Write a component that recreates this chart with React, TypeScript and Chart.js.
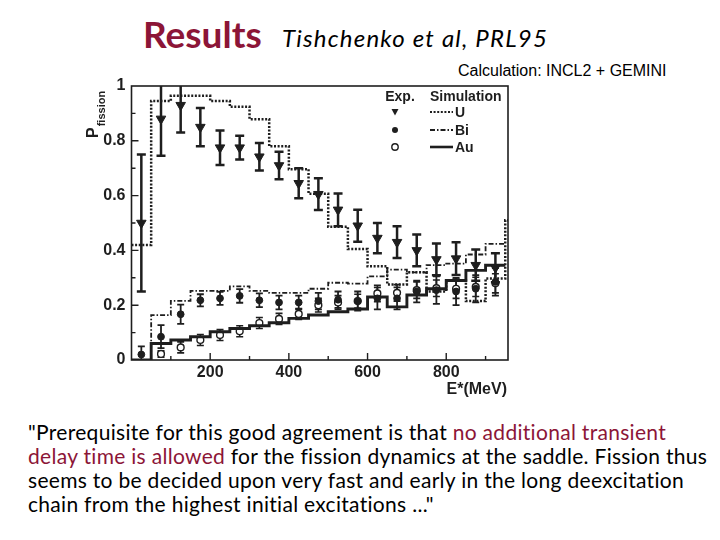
import React, { useEffect, useRef } from "react";
import { Chart, registerables } from "chart.js";
Chart.register(...registerables);

// ---- data ----
const binEdges = [0, 50, 100, 150, 200, 250, 300, 350, 400, 450, 500, 550, 600, 650, 700, 750, 800, 850, 900, 950, 1000];
const uSim = [0.42, 0.945, 0.964, 0.964, 0.945, 0.924, 0.879, 0.78, 0.696, 0.607, 0.486, 0.405, 0.342, 0.276, 0.32, 0.25, 0.29, 0.215, 0.297, 0.51];
const biSim = [0, 0.164, 0.216, 0.252, 0.252, 0.269, 0.252, 0.245, 0.245, 0.26, 0.282, 0.279, 0.305, 0.33, 0.32, 0.346, 0.352, 0.385, 0.424];
const auSim = [0, 0.06, 0.073, 0.085, 0.103, 0.115, 0.125, 0.136, 0.152, 0.164, 0.176, 0.186, 0.23, 0.194, 0.237, 0.26, 0.29, 0.327, 0.346];

const energies = [25, 75, 125, 175, 225, 275, 325, 375, 425, 475, 525, 575, 625, 675, 725, 775, 825, 875, 925];
const uExp = [0.5, 0.88, 0.93, 0.85, 0.775, 0.775, 0.742, 0.71, 0.645, 0.605, 0.548, 0.49, 0.445, 0.43, 0.4, 0.367, 0.37, 0.346, 0.337];
const uErr = [0.25, 0.135, 0.1, 0.07, 0.063, 0.043, 0.05, 0.05, 0.055, 0.058, 0.06, 0.058, 0.055, 0.058, 0.058, 0.058, 0.06, 0.057, 0.053];
const biExp = [0.02, 0.085, 0.167, 0.218, 0.225, 0.234, 0.218, 0.21, 0.21, 0.215, 0.22, 0.215, 0.225, 0.225, 0.25, 0.255, 0.25, 0.26, 0.285];
const biErr = [0.03, 0.042, 0.035, 0.022, 0.024, 0.025, 0.025, 0.025, 0.025, 0.03, 0.03, 0.035, 0.04, 0.04, 0.04, 0.05, 0.05, 0.05, 0.05];
const auExp = [null, 0.022, 0.046, 0.073, 0.091, 0.105, 0.135, 0.15, 0.168, 0.2, 0.21, 0.215, 0.243, 0.245, 0.255, 0.262, 0.26, 0.267, 0.28];
const auErr = [0, 0.012, 0.02, 0.02, 0.02, 0.02, 0.02, 0.02, 0.02, 0.025, 0.025, 0.025, 0.03, 0.03, 0.03, 0.03, 0.035, 0.035, 0.035];

const xTickLabels = [200, 400, 600, 800];
const xMinorTicks = [100, 300, 500, 700, 900];
const yTickLabels = ["0", "0.2", "0.4", "0.6", "0.8", "1"];
const yMajorTicks = [0.2, 0.4, 0.6, 0.8];
const yMinorTicks = [0.1, 0.3, 0.5, 0.7, 0.9];
const legendRows = ["U", "Bi", "Au"];

const INK = "#1e1e1e";
const AXIS_FONT = "'Liberation Sans', Arial, sans-serif";
const RED = "#8c1537";

function histPoints(vals: number[]) {
  const pts = vals.map((v, i) => ({ x: binEdges[i], y: v }));
  pts.push({ x: binEdges[vals.length], y: vals[vals.length - 1] });
  return pts;
}
function expPoints(vals: (number | null)[]) {
  return vals
    .map((v, i) => (v === null ? null : { x: energies[i], y: v }))
    .filter((p) => p !== null);
}

const U_DASH = [2, 1.6];
const BI_DASH = [5, 2, 1.5, 2];

const decor = {
  id: "decor",
  beforeDatasetsDraw(chart: any) {
    const { ctx, chartArea: a, scales } = chart;
    const xs = scales.x, ys = scales.y;
    const series = [
      { vals: uExp, errs: uErr, lw: 2.5, cap: 4.5 },
      { vals: biExp, errs: biErr, lw: 1.8, cap: 3.5 },
      { vals: auExp, errs: auErr, lw: 1.6, cap: 3.5 },
    ];
    ctx.save();
    ctx.beginPath();
    ctx.rect(a.left, a.top, a.right - a.left, a.bottom - a.top);
    ctx.clip();
    ctx.strokeStyle = INK;
    for (const s of series) {
      ctx.lineWidth = s.lw;
      s.vals.forEach((v: any, i: number) => {
        if (v === null) return;
        const x = xs.getPixelForValue(energies[i]);
        const y1 = ys.getPixelForValue(v + s.errs[i]);
        const y2 = ys.getPixelForValue(v - s.errs[i]);
        ctx.beginPath();
        ctx.moveTo(x, y1);
        ctx.lineTo(x, y2);
        ctx.moveTo(x - s.cap, y1);
        ctx.lineTo(x + s.cap, y1);
        ctx.moveTo(x - s.cap, y2);
        ctx.lineTo(x + s.cap, y2);
        ctx.stroke();
      });
    }
    ctx.restore();
  },
  afterDraw(chart: any) {
    const { ctx, chartArea: a, scales } = chart;
    const xs = scales.x, ys = scales.y;
    ctx.save();
    // frame
    ctx.strokeStyle = INK;
    ctx.lineWidth = 1.6;
    ctx.strokeRect(a.left, a.top, a.right - a.left, a.bottom - a.top);
    // ticks (inward)
    ctx.lineWidth = 1.4;
    ctx.beginPath();
    xTickLabels.forEach((v) => {
      const x = xs.getPixelForValue(v);
      ctx.moveTo(x, a.bottom);
      ctx.lineTo(x, a.bottom - 7);
    });
    xMinorTicks.forEach((v) => {
      const x = xs.getPixelForValue(v);
      ctx.moveTo(x, a.bottom);
      ctx.lineTo(x, a.bottom - 4);
    });
    yMajorTicks.forEach((v) => {
      const y = ys.getPixelForValue(v);
      ctx.moveTo(a.left, y);
      ctx.lineTo(a.left + 7, y);
    });
    yMinorTicks.forEach((v) => {
      const y = ys.getPixelForValue(v);
      ctx.moveTo(a.left, y);
      ctx.lineTo(a.left + 4, y);
    });
    ctx.stroke();

    // y title P_fission (reads bottom to top)
    ctx.fillStyle = INK;
    ctx.save();
    ctx.translate(a.left - 34, a.top + 52);
    ctx.rotate(-Math.PI / 2);
    ctx.textBaseline = "alphabetic";
    ctx.textAlign = "left";
    ctx.font = `bold 16px ${AXIS_FONT}`;
    ctx.fillText("P", 0, 0);
    const pw = ctx.measureText("P").width;
    ctx.font = `bold 11px ${AXIS_FONT}`;
    ctx.fillText("fission", pw + 1, 7.5);
    ctx.restore();

    // x title
    ctx.font = `bold 16px ${AXIS_FONT}`;
    ctx.textAlign = "right";
    ctx.textBaseline = "middle";
    ctx.fillText("E*(MeV)", a.right - 1, a.bottom + 30);

    // legend
    const mx = a.right - 113;
    const lx0 = a.right - 78;
    const lx1 = a.right - 55;
    const hy = a.top + 11;
    const rowsY = [a.top + 26, a.top + 44, a.top + 61];
    ctx.font = `bold 14px ${AXIS_FONT}`;
    ctx.textBaseline = "middle";
    ctx.textAlign = "center";
    ctx.fillText("Exp.", mx + 5, hy);
    ctx.textAlign = "left";
    ctx.fillText("Simulation", lx0, hy);
    rowsY.forEach((y, i) => {
      ctx.fillText(legendRows[i], lx1 + 2, y + 1);
      ctx.beginPath();
      if (i === 0) {
        ctx.setLineDash(U_DASH);
        ctx.lineWidth = 2.2;
      } else if (i === 1) {
        ctx.setLineDash(BI_DASH);
        ctx.lineWidth = 1.8;
      } else {
        ctx.setLineDash([]);
        ctx.lineWidth = 2.6;
      }
      ctx.moveTo(lx0, y);
      ctx.lineTo(lx1, y);
      ctx.stroke();
      ctx.setLineDash([]);
      ctx.lineWidth = 1.4;
      ctx.beginPath();
      if (i === 0) {
        ctx.moveTo(mx - 3.5, y - 3);
        ctx.lineTo(mx + 3.5, y - 3);
        ctx.lineTo(mx, y + 3.5);
        ctx.closePath();
        ctx.fill();
      } else if (i === 1) {
        ctx.arc(mx, y, 3, 0, Math.PI * 2);
        ctx.fill();
      } else {
        ctx.arc(mx, y, 3.2, 0, Math.PI * 2);
        ctx.stroke();
      }
    });
    ctx.restore();
  },
};

function PlotCanvas() {
  const ref = useRef<HTMLCanvasElement>(null);
  useEffect(() => {
    if (!ref.current) return;
    const chart = new Chart(ref.current, {
      type: "line",
      data: {
        datasets: [
          {
            label: "U sim",
            data: histPoints(uSim),
            stepped: "before",
            borderColor: INK,
            borderWidth: 2.5,
            borderDash: U_DASH,
            pointRadius: 0,
            fill: false,
          },
          {
            label: "Bi sim",
            data: histPoints(biSim),
            stepped: "before",
            borderColor: INK,
            borderWidth: 1.8,
            borderDash: BI_DASH,
            pointRadius: 0,
            fill: false,
          },
          {
            label: "Au sim",
            data: histPoints(auSim),
            stepped: "before",
            borderColor: INK,
            borderWidth: 2.9,
            pointRadius: 0,
            fill: false,
          },
          {
            label: "U exp",
            data: expPoints(uExp),
            showLine: false,
            pointStyle: "triangle",
            rotation: 180,
            pointRadius: 5.5,
            backgroundColor: INK,
            borderColor: INK,
            borderWidth: 1,
          },
          {
            label: "Bi exp",
            data: expPoints(biExp),
            showLine: false,
            pointStyle: "circle",
            pointRadius: 3.4,
            backgroundColor: INK,
            borderColor: INK,
            borderWidth: 1,
          },
          {
            label: "Au exp",
            data: expPoints(auExp),
            showLine: false,
            pointStyle: "circle",
            pointRadius: 3.4,
            backgroundColor: "#fff",
            borderColor: INK,
            borderWidth: 1.4,
          },
        ] as any,
      },
      options: {
        animation: false,
        responsive: false,
        devicePixelRatio: 1,
        layout: { padding: { left: 0, top: 26, right: 22, bottom: 0 } },
        plugins: { legend: { display: false }, tooltip: { enabled: false } },
        scales: {
          x: {
            type: "linear",
            min: 0,
            max: 957,
            grid: { display: false, drawTicks: false },
            border: { display: false },
            afterFit: (s: any) => {
              s.height = 50;
            },
            ticks: {
              stepSize: 100,
              autoSkip: false,
              maxRotation: 0,
              padding: 3,
              color: INK,
              font: { family: AXIS_FONT, weight: "bold", size: 16 },
              callback: (v: any) => (xTickLabels.includes(Number(v)) ? String(v) : ""),
            },
          },
          y: {
            type: "linear",
            min: 0,
            max: 1,
            grid: { display: false, drawTicks: false },
            border: { display: false },
            afterFit: (s: any) => {
              s.width = 81.5;
            },
            ticks: {
              stepSize: 0.2,
              autoSkip: false,
              padding: 6,
              color: INK,
              font: { family: AXIS_FONT, weight: "bold", size: 16 },
              callback: (v: any) => {
                const k = Math.round(Number(v) * 5);
                return Math.abs(Number(v) * 5 - k) < 1e-6 ? yTickLabels[k] : "";
              },
            },
          },
        },
      } as any,
      plugins: [decor],
    });
    return () => chart.destroy();
  }, []);
  return (
    <canvas
      ref={ref}
      width={480}
      height={350}
      style={{ position: "absolute", left: 50, top: 60, width: 480, height: 350 }}
    />
  );
}

export default function App() {
  const quoteFont = "Lato, 'Noto Sans', sans-serif";
  return (
    <div
      style={{
        position: "absolute",
        left: 0,
        top: 0,
        width: 720,
        height: 540,
        background: "#fff",
        overflow: "hidden",
        color: "#000",
      }}
    >
      <div
        style={{
          position: "absolute",
          left: 143,
          top: 15,
          fontFamily: quoteFont,
          fontWeight: 700,
          fontSize: 37,
          lineHeight: "37px",
          color: RED,
          whiteSpace: "nowrap",
        }}
      >
        Results
      </div>
      <div
        style={{
          position: "absolute",
          left: 282,
          top: 26,
          fontFamily: quoteFont,
          fontStyle: "italic",
          fontSize: 24,
          lineHeight: "24px",
          letterSpacing: "1.2px",
          whiteSpace: "nowrap",
        }}
      >
        Tishchenko et al, PRL95
      </div>
      <div
        style={{
          position: "absolute",
          left: 458,
          top: 63,
          fontFamily: AXIS_FONT,
          fontSize: 16,
          lineHeight: "16px",
          whiteSpace: "nowrap",
        }}
      >
        Calculation: INCL2 + GEMINI
      </div>
      <PlotCanvas />
      <div
        style={{
          position: "absolute",
          left: 28,
          top: 420,
          fontFamily: quoteFont,
          fontSize: 21,
          lineHeight: "24px",
          letterSpacing: "0.3px",
          whiteSpace: "nowrap",
        }}
      >
        <div>
          "Prerequisite for this good agreement is that{" "}
          <span style={{ color: RED }}>no additional transient</span>
        </div>
        <div>
          <span style={{ color: RED }}>delay time is allowed</span> for the fission dynamics at the saddle. Fission thus
        </div>
        <div>seems to be decided upon very fast and early in the long deexcitation</div>
        <div>chain from the highest initial excitations ..."</div>
      </div>
    </div>
  );
}
